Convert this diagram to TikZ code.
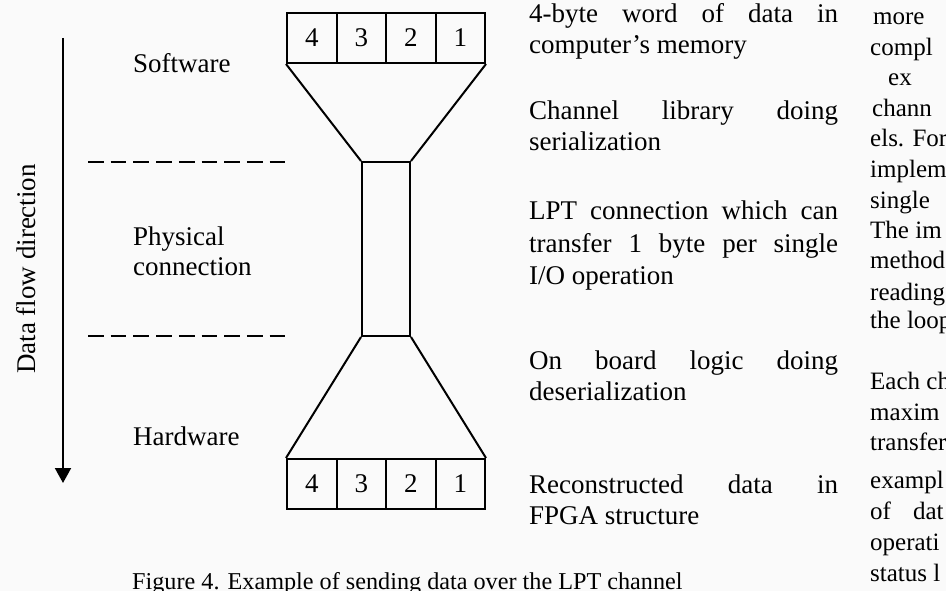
\documentclass[tikz,border=0pt]{standalone}
\usepackage{fontspec}
\setmainfont{Liberation Serif}
\usetikzlibrary{arrows.meta}

\begin{document}
\begin{tikzpicture}[x=1pt,y=-1pt,
  lbl/.style={font=\fontsize{27}{31.5}\selectfont, inner sep=0pt, anchor=base west},
  body/.style={font=\fontsize{25}{30}\selectfont, inner sep=0pt, anchor=base west},
  cell/.style={draw, line width=2pt, minimum width=49.5pt, minimum height=50pt,
               inner sep=0pt, font=\fontsize{27}{31.5}\selectfont},
  edge/.style={line width=2pt},
  divider/.style={line width=2pt, dash pattern=on 15.7pt off 7pt},
  capt/.style={font=\fontsize{24.2}{29}\selectfont, inner sep=0pt, anchor=base west}]

% page area and paper tone
\useasboundingbox (0,0) rectangle (946,591);
\clip (0,0) rectangle (946,591);
\fill[black!2] (0,0) rectangle (946,591);

% 4-byte word in memory (top) and in the FPGA (bottom)
\node[cell] (t4) at (311.75,38) {4};
\node[cell] (t3) at (361.25,38) {3};
\node[cell] (t2) at (410.75,38) {2};
\node[cell] (t1) at (460.25,38) {1};
\node[cell] (b4) at (311.75,484) {4};
\node[cell] (b3) at (361.25,484) {3};
\node[cell] (b2) at (410.75,484) {2};
\node[cell] (b1) at (460.25,484) {1};

% one-byte wide physical link
\node[draw, line width=2pt, minimum width=48pt, minimum height=174pt, inner sep=0pt]
  (link) at (386,249) {};

% serialization / deserialization funnels
\draw[edge] (t4.south west) -- (link.north west);
\draw[edge] (t1.south east) -- (link.north east);
\draw[edge] (link.south west) -- (b4.north west);
\draw[edge] (link.south east) -- (b1.north east);

% layer boundaries
\coordinate (d1a) at (88,162);  \coordinate (d1b) at (286,162);
\coordinate (d2a) at (88,336);  \coordinate (d2b) at (286,336);
\draw[divider] (d1a) -- (d1b);
\draw[divider] (d2a) -- (d2b);

% data flow arrow
\coordinate (flowtop) at (63,38);
\coordinate (flowtip) at (63,483);
\draw[edge, -{Triangle[width=16pt,length=15pt]}] (flowtop) -- (flowtip);
\node[font=\fontsize{27}{31.5}\selectfont, inner sep=0pt, rotate=90] (flow) at (26,269) {Data flow direction};

% layer names
\node[lbl] (sw) at (133,73) {Software};
\node[lbl] (ph1) at (133,245) {Physical};
\node[lbl] (ph2) at (133,276) {connection};
\node[lbl] (hw) at (133,445) {Hardware};

% descriptions
\node[lbl] (m1) at (529,23) {\makebox[309pt][s]{4-byte word of data in}};
\node[lbl] (m2) at (529,54) {computer's memory};
\node[lbl] (s1) at (529,120) {\makebox[309pt][s]{Channel library doing}};
\node[lbl] (s2) at (529,151) {serialization};
\node[lbl] (l1) at (529,220) {\makebox[309pt][s]{LPT connection which can}};
\node[lbl] (l2) at (529,252) {\makebox[309pt][s]{transfer 1 byte per single}};
\node[lbl] (l3) at (529,284) {I/O operation};
\node[lbl] (o1) at (529,369) {\makebox[309pt][s]{On board logic doing}};
\node[lbl] (o2) at (529,400) {deserialization};
\node[lbl] (r1) at (529,493) {\makebox[309pt][s]{Reconstructed data in}};
\node[lbl] (r2) at (529,524) {FPGA structure};

% caption
\node[capt] (cap) at (132,589) {Figure 4. Example of sending data over the LPT channel};

% neighbouring column of body text
\node[body] (c1) at (873,25) {more};
\node[body] (c2) at (870,56) {compl};
\node[body] (c3) at (888,86) {ex};
\node[body] (c4) at (872,117) {chann};
\node[body] (c5) at (870,147) {els. For};
\node[body] (c6) at (870,178) {implem};
\node[body] (c7) at (870,208) {single};
\node[body] (c8) at (870,239) {The im};
\node[body] (c9) at (870,269) {method};
\node[body] (c10) at (870,300) {reading};
\node[body] (c11) at (870,328) {the loop};
\node[body] (c12) at (870,389) {Each ch};
\node[body] (c13) at (870,420) {maxim};
\node[body] (c14) at (870,450) {transfer};
\node[body] (c15) at (870,488) {exampl};
\node[body] (c16) at (870,519) {of\hspace{22pt}dat};
\node[body] (c17) at (870,550) {operati};
\node[body] (c18) at (870,581) {status l};
\end{tikzpicture}
\end{document}
